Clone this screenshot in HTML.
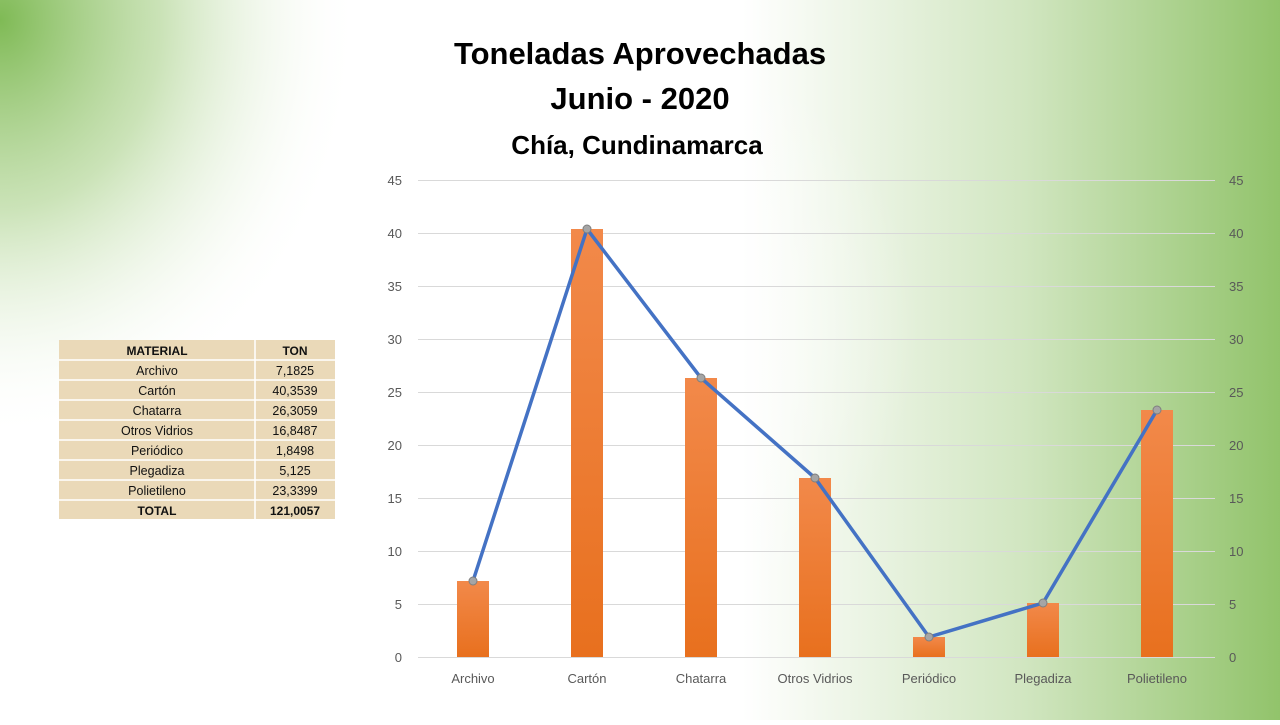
<!DOCTYPE html>
<html><head><meta charset="utf-8"><style>
body{margin:0;width:1280px;height:720px;overflow:hidden;font-family:"Liberation Sans",sans-serif}
</style></head><body>
<svg width="1280" height="720" xmlns="http://www.w3.org/2000/svg" font-family="Liberation Sans, sans-serif">
<defs>
<linearGradient id="rg" x1="0" y1="0" x2="1" y2="0">
<stop offset="0.58" stop-color="#8cc063" stop-opacity="0"/>
<stop offset="0.8" stop-color="#8cc063" stop-opacity="0.4"/>
<stop offset="1" stop-color="#8cc063" stop-opacity="0.95"/>
</linearGradient>
<radialGradient id="tl" cx="0" cy="0" r="1" gradientUnits="userSpaceOnUse" gradientTransform="translate(0 20) scale(360 420)">
<stop offset="0" stop-color="#7fba55" stop-opacity="1"/>
<stop offset="0.45" stop-color="#a8d088" stop-opacity="0.6"/>
<stop offset="1" stop-color="#ffffff" stop-opacity="0"/>
</radialGradient>
<radialGradient id="ce" cx="0" cy="0" r="1" gradientUnits="userSpaceOnUse" gradientTransform="translate(560 330) scale(360 330)">
<stop offset="0" stop-color="#ffffff" stop-opacity="1"/>
<stop offset="1" stop-color="#ffffff" stop-opacity="0"/>
</radialGradient>
<linearGradient id="bar" x1="0" y1="0" x2="0" y2="1">
<stop offset="0" stop-color="#f2894a"/>
<stop offset="1" stop-color="#e8701e"/>
</linearGradient>
</defs>
<rect width="1280" height="720" fill="#ffffff"/>
<rect width="1280" height="720" fill="url(#rg)"/>
<rect width="1280" height="720" fill="url(#tl)"/>
<rect width="1280" height="720" fill="url(#ce)"/>

<g font-weight="bold" fill="#000" text-anchor="middle">
<text x="640" y="64" font-size="31">Toneladas Aprovechadas</text>
<text x="640" y="109" font-size="31">Junio - 2020</text>
<text x="637" y="154" font-size="26">Chía, Cundinamarca</text>
</g>

<g stroke="#d9d9d9" stroke-width="1">
<line x1="418" x2="1215" y1="180.5" y2="180.5"/>
<line x1="418" x2="1215" y1="233.5" y2="233.5"/>
<line x1="418" x2="1215" y1="286.5" y2="286.5"/>
<line x1="418" x2="1215" y1="339.5" y2="339.5"/>
<line x1="418" x2="1215" y1="392.5" y2="392.5"/>
<line x1="418" x2="1215" y1="445.5" y2="445.5"/>
<line x1="418" x2="1215" y1="498.5" y2="498.5"/>
<line x1="418" x2="1215" y1="551.5" y2="551.5"/>
<line x1="418" x2="1215" y1="604.5" y2="604.5"/>
<line x1="418" x2="1215" y1="657.5" y2="657.5"/>
</g>
<g font-size="13" fill="#595959">
<g text-anchor="end">
<text x="402" y="185">45</text><text x="402" y="238">40</text><text x="402" y="291">35</text><text x="402" y="344">30</text><text x="402" y="397">25</text><text x="402" y="450">20</text><text x="402" y="503">15</text><text x="402" y="556">10</text><text x="402" y="609">5</text><text x="402" y="662">0</text>
</g>
<g text-anchor="start">
<text x="1229" y="185">45</text><text x="1229" y="238">40</text><text x="1229" y="291">35</text><text x="1229" y="344">30</text><text x="1229" y="397">25</text><text x="1229" y="450">20</text><text x="1229" y="503">15</text><text x="1229" y="556">10</text><text x="1229" y="609">5</text><text x="1229" y="662">0</text>
</g>
<g text-anchor="middle">
<text x="473" y="683">Archivo</text><text x="587" y="683">Cartón</text><text x="701" y="683">Chatarra</text><text x="815" y="683">Otros Vidrios</text><text x="929" y="683">Periódico</text><text x="1043" y="683">Plegadiza</text><text x="1157" y="683">Polietileno</text>
</g>
</g>

<g fill="url(#bar)">
<rect x="457" y="581" width="32" height="76"/>
<rect x="571" y="229" width="32" height="428"/>
<rect x="685" y="378" width="32" height="279"/>
<rect x="799" y="478" width="32" height="179"/>
<rect x="913" y="637" width="32" height="20"/>
<rect x="1027" y="603" width="32" height="54"/>
<rect x="1141" y="410" width="32" height="247"/>
</g>
<polyline fill="none" stroke="#4472c4" stroke-width="3.5" stroke-linejoin="round" points="473,581 587,229 701,378 815,478 929,637 1043,603 1157,410"/>
<g fill="#a5a5a5" stroke="#7f7f7f" stroke-width="1">
<circle cx="473" cy="581" r="4"/><circle cx="587" cy="229" r="4"/><circle cx="701" cy="378" r="4"/><circle cx="815" cy="478" r="4"/><circle cx="929" cy="637" r="4"/><circle cx="1043" cy="603" r="4"/><circle cx="1157" cy="410" r="4"/>
</g>

<g>
<rect x="59" y="340" width="276" height="179" fill="#ead9b8"/>
<g stroke="#ffffff" stroke-width="1.5">
<line x1="255" x2="255" y1="340" y2="519"/>
<line x1="59" x2="335" y1="360" y2="360"/>
<line x1="59" x2="335" y1="380" y2="380"/>
<line x1="59" x2="335" y1="400" y2="400"/>
<line x1="59" x2="335" y1="420" y2="420"/>
<line x1="59" x2="335" y1="440" y2="440"/>
<line x1="59" x2="335" y1="460" y2="460"/>
<line x1="59" x2="335" y1="480" y2="480"/>
<line x1="59" x2="335" y1="500" y2="500"/>
</g>
<g font-size="12.5" fill="#111" text-anchor="middle">
<text x="157" y="355" font-weight="bold" font-size="12">MATERIAL</text><text x="295" y="355" font-weight="bold" font-size="12">TON</text>
<text x="157" y="375">Archivo</text><text x="295" y="375">7,1825</text>
<text x="157" y="395">Cartón</text><text x="295" y="395">40,3539</text>
<text x="157" y="415">Chatarra</text><text x="295" y="415">26,3059</text>
<text x="157" y="435">Otros Vidrios</text><text x="295" y="435">16,8487</text>
<text x="157" y="455">Periódico</text><text x="295" y="455">1,8498</text>
<text x="157" y="475">Plegadiza</text><text x="295" y="475">5,125</text>
<text x="157" y="495">Polietileno</text><text x="295" y="495">23,3399</text>
<text x="157" y="515" font-weight="bold" font-size="12">TOTAL</text><text x="295" y="515" font-weight="bold" font-size="12">121,0057</text>
</g>
</g>
</svg>
</body></html>
